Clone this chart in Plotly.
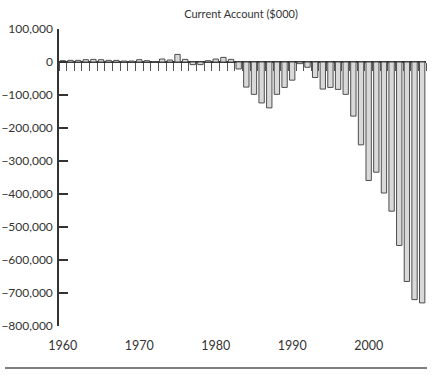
import plotly.graph_objects as go

years = list(range(1960, 2008))
current_account = [
    4000, 5000, 5000, 7000, 8000, 7000, 5000, 5000, 3000, 3000,      # 1960-1969
    7000, 4000, 1000, 9000, 6000, 23000, 8000, -8000, -8000, 4000,   # 1970-1979
    9000, 14000, 8000, -21000, -76000, -98000, -124000, -139000, -98000, -77000,  # 1980-1989
    -55000, -5000, -16000, -47000, -82000, -77000, -83000, -98000, -164000, -251000,  # 1990-1999
    -359000, -334000, -397000, -452000, -556000, -665000, -720000, -730000,  # 2000-2007
]
x_tick_years = [1960, 1970, 1980, 1990, 2000]
y_tick_values = [100000, 0, -100000, -200000, -300000, -400000, -500000, -600000, -700000, -800000]
y_tick_labels = ["100,000", "0", "−100,000", "−200,000", "−300,000", "−400,000",
                 "−500,000", "−600,000", "−700,000", "−800,000"]
chart_title = "Current Account ($000)"

FONT = "Lato, 'Open Sans', sans-serif"
AX = "#333333"

fig = go.Figure()
fig.add_trace(go.Bar(
    x=years, y=current_account,
    marker=dict(color="#d9d9d9", line=dict(color="#4d4d4d", width=1)),
    xaxis="x", yaxis="y", showlegend=False,
))

x_range = [years[0] - 0.5, years[-1] + 0.5]
boundaries = [y - 0.5 for y in years] + [years[-1] + 0.5]

fig.update_layout(
    width=433, height=375,
    margin=dict(l=59, r=7, t=29, b=49, autoexpand=False),
    paper_bgcolor="white", plot_bgcolor="white",
    bargap=0.3,
    font=dict(family=FONT, size=12, color="#333333"),
    title=dict(text=chart_title, x=0.496, xref="paper", xanchor="center",
               y=1 - 14 / 375, yref="container", yanchor="middle",
               font=dict(family=FONT, size=11, color="#333333")),
    xaxis=dict(range=x_range, tickvals=x_tick_years, ticks="", showline=False,
               showgrid=False, zeroline=False, ticklabelstandoff=10,
               automargin=False, tickfont=dict(size=12.5, color="#333333")),
    xaxis2=dict(range=x_range, overlaying="x", anchor="free", position=8 / 9,
                side="bottom", showline=True, linecolor=AX, linewidth=1.5,
                ticks="outside", ticklen=8, tickwidth=1, tickcolor="#555555",
                tickvals=boundaries, showticklabels=False, showgrid=False,
                zeroline=False, layer="below traces", automargin=False),
    yaxis=dict(range=[-800000, 100000], tickvals=y_tick_values, ticktext=y_tick_labels,
               showline=True, linecolor=AX, linewidth=1.5, ticks="inside",
               ticklen=9, tickwidth=1.5, tickcolor=AX, showgrid=False,
               zeroline=False, ticklabelstandoff=2, automargin=False,
               tickfont=dict(size=12, color="#333333")),
    shapes=[dict(type="line", xref="paper", yref="paper",
                 x0=(5 - 59) / 367, x1=(427 - 59) / 367,
                 y0=(326 - 368) / 297, y1=(326 - 368) / 297,
                 line=dict(color="#555555", width=1.5))],
)

# invisible trace to activate xaxis2
fig.add_trace(go.Scatter(x=[years[0]], y=[0], xaxis="x2", yaxis="y",
                         mode="markers", marker=dict(opacity=0),
                         showlegend=False, hoverinfo="skip"))

fig.write_html("out.html", config={"displayModeBar": False},
               post_script="document.body.style.margin='0';document.body.style.overflow='hidden';")
